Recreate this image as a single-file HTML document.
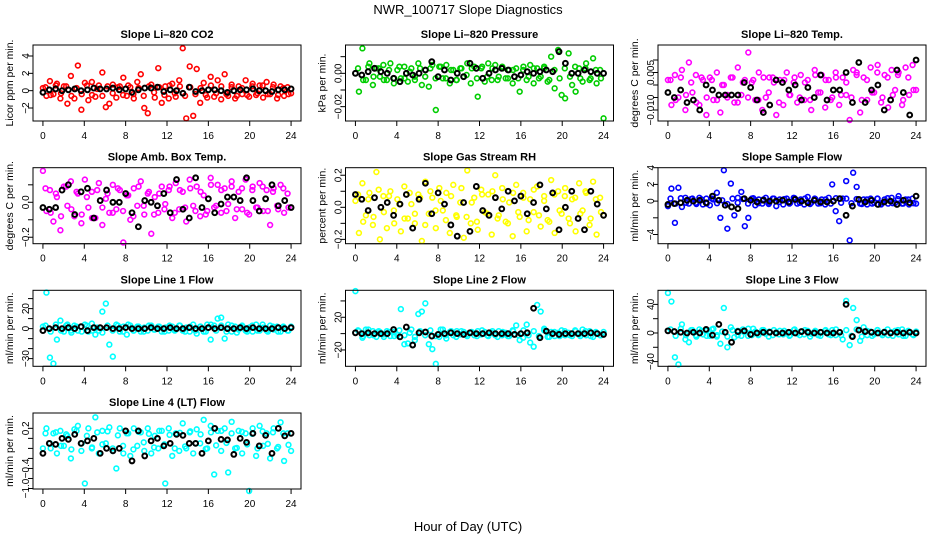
<!DOCTYPE html>
<html><head><meta charset="utf-8"><style>
html,body{margin:0;padding:0;background:#fff;}
svg{display:block;font-family:"Liberation Sans",sans-serif;}
</style></head><body>
<svg id="chart" width="936" height="540" viewBox="0 0 936 540" xmlns="http://www.w3.org/2000/svg">
<rect x="0" y="0" width="936" height="540" fill="#fff"/>
<text x="468" y="14" text-anchor="middle" font-size="13">NWR_100717  Slope Diagnostics</text>
<text x="468" y="531" text-anchor="middle" font-size="13">Hour of Day (UTC)</text>
</svg>
<script>
const hourTicks = [0,4,8,12,16,20,24];

const co2Vals = [0.3,-0.6,1.1,-0.4,0.8,-0.9,0.5,-1.5,1.7,-0.9,2.9,-2.2,0.9,-1.1,1.0,-0.7,0.6,2.1,-1.9,-1.5,0.7,-0.8,0.5,1.5,-0.6,0.4,-0.9,1.0,1.9,-2.0,-2.6,0.7,-0.8,2.6,-1.4,0.5,-0.9,0.8,-0.7,1.2,4.9,-3.2,2.8,-2.9,2.5,-1.4,0.9,-0.8,1.6,-0.7,1.2,-1.0,1.9,-0.6,0.7,-0.9,0.5,-0.4,1.2,-0.7,0.8,-0.5,0.6,-0.8,1.0,-0.4,0.7,-0.9,0.5,-0.6,0.4,-0.3];
const co2Band = [0.4,-0.5,0.6,-0.3,0.5,-0.6,0.3,-0.4,0.6,-0.5,0.2,-0.6,0.5,-0.3,0.4,-0.5,0.6,-0.4,0.3,-0.6,0.5,-0.2,0.4,-0.5,0.6,-0.3,0.5,-0.6,0.4,-0.4,0.3,-0.5,0.6,-0.3,0.5,-0.4,0.4,-0.6,0.3,-0.5,0.5,-0.3,0.6,-0.4,0.4,-0.5,0.3,-0.4];
const co2Black = [-0.2,0.1,0.2,0.0,0.1,0.2,0.0,0.1,0.3,0.2,0.2,0.3,0.1,0.2,-0.2,0.1,0.3,0.3,0.4,-0.1,0.1,0.0,-0.3,0.4,-0.1,0.0,0.1,0.1,0.0,-0.2,0.0,0.1,0.1,0.2,0.0,0.0,-0.1,0.1,0.1,0.2];

const presVals = [0.0,-0.011,0.015,-0.004,0.006,-0.007,0.003,-0.002,0.005,-0.004,0.006,-0.006,0.002,-0.003,0.004,-0.005,0.003,-0.002,0.006,-0.007,0.002,-0.008,0.005,-0.022,0.004,-0.003,0.005,-0.006,0.002,-0.004,0.003,-0.002,0.006,-0.006,0.004,-0.014,0.003,-0.005,0.006,-0.004,0.005,-0.002,0.004,-0.003,0.002,-0.006,0.003,-0.011,0.002,-0.004,0.005,-0.006,0.003,-0.002,0.004,-0.005,0.010,-0.009,0.014,-0.013,-0.015,0.012,-0.007,-0.011,0.003,-0.005,0.006,-0.004,0.009,-0.006,0.002,-0.027];
const presBand = [0.003,-0.004,0.004,-0.002,0.003,-0.004,0.002,-0.003,0.004,-0.003,0.001,-0.004,0.003,-0.002,0.003,-0.003,0.004,-0.003,0.002,-0.004,0.003,-0.001,0.003,-0.003,0.004,-0.002,0.003,-0.004,0.003,-0.003,0.002,-0.003,0.004,-0.002,0.003,-0.003,0.003,-0.004,0.002,-0.003,0.003,-0.002,0.004,-0.003,0.003,-0.003,0.002,-0.003];
const presBlack = [0.0,-0.001,0.001,0.003,0.001,0.0,-0.003,-0.005,0.0,-0.001,0.0,0.002,0.007,-0.002,0.002,-0.004,0.0,-0.002,0.006,0.003,-0.003,0.0,0.002,0.003,0.002,-0.002,-0.001,0.001,0.0,0.001,0.002,0.001,0.013,0.006,0.0,0.0,0.002,0.001,0.0,0.0];

const tempVals = [0.002,-0.008,0.004,-0.005,0.006,-0.010,0.009,-0.003,0.004,-0.008,0.002,-0.012,0.003,-0.006,0.005,-0.011,0.0,-0.005,0.003,-0.007,0.007,-0.004,0.002,0.013,0.001,-0.006,0.005,-0.010,-0.005,0.003,0.003,-0.012,0.002,-0.008,0.005,-0.004,0.001,-0.007,0.004,-0.006,0.002,-0.010,0.006,-0.003,0.004,-0.009,0.002,-0.005,0.005,-0.008,0.003,-0.004,-0.014,0.006,0.005,-0.011,0.003,-0.006,0.007,-0.003,0.008,-0.007,0.004,-0.009,0.006,-0.002,0.005,-0.008,0.007,-0.004,0.008,-0.002];
const tempBand = [0.002,-0.006,0.003,-0.004,0.001,-0.007,0.003,-0.005,0.002,-0.006,0.0,-0.004,0.003,-0.007,0.001,-0.005,0.002,-0.006,0.003,-0.003,0.001,-0.007,0.002,-0.004,0.003,-0.005,0.001,-0.006,0.004,-0.003,0.002,-0.006,0.003,-0.004,0.001,-0.005,0.004,-0.006,0.002,-0.003,0.005,-0.005,0.003,-0.004,0.004,-0.006,0.003,-0.002];
const tempBlack = [-0.003,-0.005,-0.002,-0.007,-0.006,-0.010,0.0,-0.002,-0.004,-0.004,-0.004,-0.004,0.001,-0.001,-0.006,-0.011,-0.008,0.002,0.001,-0.002,0.0,-0.006,-0.001,-0.005,0.004,-0.006,-0.002,-0.002,0.005,-0.007,0.009,-0.007,-0.002,0.0,-0.010,-0.006,0.006,-0.003,-0.012,0.010];

const ambVals = [0.18,-0.05,0.07,-0.11,0.03,-0.16,0.09,-0.02,0.12,-0.08,0.05,-0.12,0.13,-0.03,0.06,-0.09,0.11,-0.13,0.02,-0.06,0.10,-0.04,0.07,-0.23,0.04,-0.10,0.08,-0.02,0.12,-0.07,0.05,-0.18,0.03,-0.06,0.09,-0.01,0.07,-0.09,0.11,-0.04,0.06,-0.11,0.13,-0.02,0.09,-0.08,0.04,-0.05,0.14,-0.03,0.10,-0.06,0.08,-0.01,0.12,-0.09,0.06,-0.04,0.13,-0.07,0.09,-0.03,0.11,-0.05,0.07,-0.13,0.08,-0.02,0.10,-0.06,0.05,-0.03];
const ambBand = [0.08,-0.06,0.05,-0.08,0.09,-0.04,0.06,-0.07,0.03,-0.09,0.07,-0.03,0.05,-0.06,0.08,-0.05,0.04,-0.08,0.09,-0.02,0.06,-0.07,0.05,-0.04,0.09,-0.06,0.07,-0.03,0.08,-0.05,0.06,-0.07,0.10,-0.02,0.07,-0.05,0.09,-0.04,0.08,-0.06,0.07,-0.03,0.09,-0.05,0.06,-0.04,0.08,-0.03];
const ambBlack = [-0.03,-0.04,-0.03,0.07,0.10,-0.07,0.06,0.08,-0.09,0.01,0.07,0.0,0.0,0.05,-0.06,-0.14,0.01,0.0,-0.02,0.05,-0.06,0.13,-0.04,-0.09,0.14,-0.03,0.02,-0.06,-0.01,0.03,0.03,0.01,0.14,0.01,-0.05,0.02,0.10,-0.02,0.01,-0.03];

const rhVals = [0.04,-0.16,0.15,-0.05,0.09,-0.11,0.22,-0.20,0.07,-0.13,0.10,-0.02,0.05,-0.15,0.13,-0.07,0.02,-0.10,0.08,-0.21,0.16,-0.04,0.06,-0.13,0.12,-0.02,0.09,-0.16,0.14,-0.06,0.03,-0.19,0.23,-0.10,0.06,-0.14,0.11,-0.03,0.08,-0.17,0.20,-0.05,0.12,-0.09,0.03,-0.18,0.14,-0.06,0.09,-0.15,0.05,-0.03,0.13,-0.12,0.07,-0.08,0.17,-0.16,0.10,-0.04,0.12,-0.07,0.05,-0.15,0.15,-0.02,0.09,-0.11,0.16,-0.17,0.06,-0.05];
const rhBand = [0.08,-0.09,0.05,-0.06,0.11,-0.03,0.07,-0.10,0.02,-0.07,0.09,-0.04,0.06,-0.11,0.10,-0.02,0.04,-0.08,0.07,-0.05,0.12,-0.06,0.03,-0.09,0.08,-0.04,0.10,-0.07,0.05,-0.10,0.09,-0.03,0.06,-0.08,0.11,-0.05,0.04,-0.09,0.08,-0.02,0.07,-0.10,0.06,-0.04,0.10,-0.07,0.05,-0.03];
const rhBlack = [0.08,0.05,-0.02,0.06,0.0,0.03,-0.05,0.02,0.08,-0.13,0.05,0.15,-0.04,0.09,0.02,-0.11,-0.18,0.03,-0.15,0.13,-0.02,-0.05,0.06,-0.01,0.10,0.04,0.07,-0.04,0.03,0.14,-0.01,0.09,-0.14,0.0,0.10,-0.07,-0.14,0.10,0.02,-0.05];

const flowVals = [-0.6,1.5,-2.6,1.6,-0.7,0.4,-0.3,0.3,-0.2,0.4,-0.4,0.3,-0.5,0.2,1.0,-2.0,3.7,-3.3,2.1,-1.7,0.4,1.1,-3.0,-2.0,0.3,-0.5,0.2,-0.3,0.4,-0.2,0.3,-0.6,0.2,-0.4,0.3,-0.2,0.4,-0.3,0.2,-0.4,0.5,-0.2,0.3,-0.3,0.2,-0.4,0.4,2.0,-1.2,-2.4,0.3,2.4,-4.7,3.4,1.7,-0.3,0.2,-0.4,0.3,-0.2,0.3,-0.4,0.2,-0.3,0.4,-0.2,0.6,-0.3,0.2,-0.4,0.3,-0.3];
const flowBand = [0.3,-0.3,0.35,-0.2,0.25,-0.35,0.2,-0.3,0.3,-0.25,0.1,-0.35,0.3,-0.2,0.25,-0.3,0.35,-0.25,0.2,-0.35,0.3,-0.1,0.25,-0.3,0.35,-0.2,0.3,-0.35,0.25,-0.25,0.2,-0.3,0.35,-0.2,0.3,-0.25,0.25,-0.35,0.2,-0.3,0.3,-0.2,0.35,-0.25,0.25,-0.3,0.2,-0.25];
const flowBlack = [-0.4,-0.3,-0.2,0.1,0.0,0.1,-0.2,0.6,0.1,-0.5,-0.7,-0.9,0.3,0.1,-0.1,0.1,0.0,0.0,0.1,-0.1,0.2,0.0,-0.2,0.1,-0.1,-0.1,0.0,0.3,-1.7,-0.6,0.2,-0.1,0.1,-0.4,-0.1,0.0,-0.4,0.1,-0.2,0.6];

const line1Vals = [2,36,-29,-35,-11,8,-3,4,-2,3,-2,2,4,-3,5,-6,-2,17,25,-16,-28,4,-3,2,-6,3,-2,2,-3,1,-2,3,-1,2,-3,1,-2,2,-1,3,-2,1,-3,4,-5,2,-3,4,-11,3,10,11,-10,4,-3,2,-1,3,-2,1,-3,4,-2,1,-2,3,-1,2,-3,1,-2,2];
const line1Band = [3,-3,4,-2,3,-4,2,-3,3,-2,1,-4,3,-2,3,-3,4,-2,2,-3,3,-1,2,-3,3,-2,3,-3,2,-2,2,-3,4,-2,3,-3,3,-4,2,-3,3,-2,4,-3,2,-3,2,-2];
const line1Black = [-2,0,1,0,1,0,2,-2,1,1,1,0,0,1,0,0,0,1,0,0,1,0,0,1,0,0,1,0,1,0,0,1,0,1,0,0,0,1,0,1];

const line2Vals = [52,3,-5,5,-2,3,-4,2,-1,3,-3,2,-2,30,-13,-12,5,-8,24,27,37,-13,-19,-37,-4,5,-6,2,-2,3,-1,2,-3,1,-2,3,-1,2,-3,1,-2,3,-2,1,-3,4,10,-8,-5,11,-11,-16,35,27,6,-4,2,-3,1,4,-2,1,-3,3,-1,5,-2,3,-4,1,-2,2];
const line2Band = [4,-3,5,-2,3,-4,2,-3,4,-2,1,-4,3,-2,4,-3,5,-2,3,-4,3,-1,2,-3,4,-2,3,-4,2,-3,3,-2,4,-2,3,-3,4,-4,2,-3,3,-2,4,-3,3,-3,2,-2];
const line2Black = [1,0,1,0,0,0,5,-4,8,-14,1,2,-3,-1,0,1,0,-1,1,0,0,1,0,0,0,-1,0,1,31,-5,3,0,-1,0,0,0,0,1,0,-1];

const line3Vals = [56,44,-34,-44,12,-9,-13,4,-3,5,-2,3,-4,6,-5,-15,35,-20,8,-6,3,-4,2,6,-3,2,-2,4,-1,2,-3,1,3,-2,1,-3,4,-1,2,-2,3,-1,2,-3,1,3,-2,4,-3,1,-9,45,-17,35,18,-11,8,-3,2,-2,4,-1,2,-3,1,3,-2,5,-4,1,-2,2];
const line3Band = [5,-4,6,-3,4,-5,3,-4,5,-3,2,-5,4,-3,5,-4,6,-3,4,-5,4,-2,3,-4,5,-3,4,-5,3,-4,4,-3,5,-3,4,-4,5,-5,3,-4,4,-3,5,-4,4,-4,3,-3];
const line3Black = [3,2,1,0,1,0,5,-3,12,1,-13,2,3,-2,0,1,1,0,0,1,0,2,1,0,1,0,0,1,40,-5,4,2,1,0,1,0,1,0,1,0];

const line4Vals = [-0.2,0.2,-0.1,0.1,-0.3,0.15,-0.15,0.05,-0.4,0.18,0.25,-0.25,-0.9,0.2,-0.2,0.42,-0.3,0.15,-0.1,0.22,-0.25,-0.6,0.2,-0.3,0.1,-0.35,0.2,-0.15,0.12,-0.25,0.2,-0.3,0.05,-0.2,0.15,-0.9,0.2,-0.35,0.1,-0.25,0.3,-0.2,0.12,-0.3,0.18,-0.1,0.37,-0.2,0.25,-0.72,0.15,-0.25,0.2,-0.68,0.33,-0.2,0.15,-0.3,0.1,-1.05,0.2,-0.35,0.25,-0.15,0.1,-0.4,0.2,-0.2,0.32,-0.45,0.1,-0.25];
const line4Band = [0.1,-0.2,0.12,-0.15,0.08,-0.22,0.15,-0.1,0.05,-0.18,0.12,-0.12,0.14,-0.2,0.06,-0.15,0.1,-0.22,0.13,-0.08,0.09,-0.18,0.15,-0.12,0.07,-0.2,0.11,-0.16,0.14,-0.1,0.08,-0.21,0.12,-0.14,0.15,-0.09,0.1,-0.19,0.13,-0.12,0.09,-0.2,0.14,-0.11,0.12,-0.17,0.1,-0.13];
const line4Black = [-0.3,-0.1,-0.12,0.0,-0.02,0.08,-0.1,-0.05,0.0,-0.3,-0.2,-0.25,-0.2,0.15,-0.45,0.15,-0.35,-0.05,0.0,-0.15,-0.1,0.08,0.06,-0.1,-0.1,-0.3,-0.05,0.2,-0.02,-0.03,-0.32,0.0,-0.08,0.1,-0.15,0.06,-0.3,0.2,0.05,0.1];

const colLeft = [33, 345.5, 658];
const rowTop = [45, 167.7, 290.3, 413];
const panels = [
 {name:'co2', title:'Slope Li\u2013820 CO2', ylab:'Licor ppm per min.', col:0,row:0, color:'#ff0000', vals:co2Vals, band:co2Band, black:co2Black, ymin:-3.5, ymax:5.27, ticks:[-2,0,2,4], labels:['\u22122','0','2','4']},
 {name:'pressure', title:'Slope Li\u2013820 Pressure', ylab:'kPa per min.', col:1,row:0, color:'#00cd00', vals:presVals, band:presBand, black:presBlack, ymin:-0.0286, ymax:0.017, ticks:[-0.02,-0.01,0,0.01], labels:['\u22120.02','','0.00','']},
 {name:'temp', title:'Slope Li\u2013820 Temp.', ylab:'degrees C per min.', col:2,row:0, color:'#ff00ff', vals:tempVals, band:tempBand, black:tempBlack, ymin:-0.0144, ymax:0.016, ticks:[-0.01,-0.005,0,0.005,0.01], labels:['\u22120.010','','','0.005','']},
 {name:'amb-box-temp', title:'Slope Amb. Box Temp.', ylab:'degrees C per min.', col:0,row:1, color:'#ff00ff', vals:ambVals, band:ambBand, black:ambBlack, ymin:-0.237, ymax:0.198, ticks:[-0.2,-0.1,0,0.1], labels:['\u22120.2','','0.0','']},
 {name:'gas-stream-rh', title:'Slope Gas Stream RH', ylab:'percent per min.', col:1,row:1, color:'#ffff00', vals:rhVals, band:rhBand, black:rhBlack, ymin:-0.227, ymax:0.247, ticks:[-0.2,-0.1,0,0.1,0.2], labels:['\u22120.2','','0.0','','0.2']},
 {name:'sample-flow', title:'Slope Sample Flow', ylab:'ml/min per min.', col:2,row:1, color:'#0000ff', vals:flowVals, band:flowBand, black:flowBlack, ymin:-5.1, ymax:4.0, ticks:[-4,-2,0,2,4], labels:['\u22124','','0','2','4']},
 {name:'line1-flow', title:'Slope Line 1 Flow', ylab:'ml/min per min.', col:0,row:2, color:'#00ffff', vals:line1Vals, band:line1Band, black:line1Black, ymin:-37.7, ymax:38.3, ticks:[-30,-20,-10,0,10,20,30], labels:['\u221230','','','0','','20','']},
 {name:'line2-flow', title:'Slope Line 2 Flow', ylab:'ml/min per min.', col:1,row:2, color:'#00ffff', vals:line2Vals, band:line2Band, black:line2Black, ymin:-40, ymax:53, ticks:[-20,0,20,40], labels:['\u221220','','20','']},
 {name:'line3-flow', title:'Slope Line 3 Flow', ylab:'ml/min per min.', col:2,row:2, color:'#00ffff', vals:line3Vals, band:line3Band, black:line3Black, ymin:-46.6, ymax:59.7, ticks:[-40,-20,0,20,40], labels:['\u221240','','0','','40']},
 {name:'line4-flow', title:'Slope Line 4 (LT) Flow', ylab:'ml/min per min.', col:0,row:3, color:'#00ffff', vals:line4Vals, band:line4Band, black:line4Black, ymin:-1.01, ymax:0.506, ticks:[-1.0,-0.8,-0.6,-0.4,-0.2,0,0.2], labels:['\u22121.0','','\u22120.4','','','','0.2']}
];

const NS = 'http://www.w3.org/2000/svg';
const svg = document.getElementById('chart');
const W = 268, H = 76, XMIN = -0.96, XMAX = 24.96;
function mk(tag, attrs, parent){ const e = document.createElementNS(NS, tag); for (const k in attrs) e.setAttribute(k, attrs[k]); parent.appendChild(e); return e; }

panels.forEach(p => {
  const L = colLeft[p.col], T = rowTop[p.row];
  const xs = h => L + (h - XMIN) / (XMAX - XMIN) * W;
  const ys = v => T + (p.ymax - v) / (p.ymax - p.ymin) * H;
  const g = mk('g', {}, svg);
  
  
  const t = mk('text', {x: L + W/2, y: T - 7, 'text-anchor':'middle', 'font-size':'11', 'font-weight':'bold'}, g);
  t.textContent = p.title;
  
  
  const xa = mk('g', {}, g);
  
  
  mk('line', {x1: xs(hourTicks[0]), x2: xs(hourTicks[hourTicks.length-1]), y1: T+H, y2: T+H, stroke:'#000'}, xa);
  hourTicks.forEach(h => {
    mk('line', {x1: xs(h), x2: xs(h), y1: T+H, y2: T+H+5, stroke:'#000'}, xa);
    const tl = mk('text', {x: xs(h), y: T+H+18, 'text-anchor':'middle', 'font-size':'10'}, xa);
    tl.textContent = h;
    
    
  });
  const ya = mk('g', {}, g);
  
  
  mk('line', {x1: L, x2: L, y1: ys(p.ticks[0]), y2: ys(p.ticks[p.ticks.length-1]), stroke:'#000'}, ya);
  p.ticks.forEach((v, i) => {
    mk('line', {x1: L-5, x2: L, y1: ys(v), y2: ys(v), stroke:'#000'}, ya);
    if (p.labels[i]) {
      const yl = mk('text', {x: 0, y: 0, 'text-anchor':'middle', 'font-size':'10', transform:'translate(' + (L-4) + ',' + ys(v) + ') rotate(-90)'}, ya);
      yl.textContent = p.labels[i];
      
      
    }
  });
  const yt = mk('text', {x: 0, y: 0, 'text-anchor':'middle', 'font-size':'10.5', transform:'translate(' + (L-20) + ',' + (T+H/2) + ') rotate(-90)'}, g);
  yt.textContent = p.ylab;
  
  
  const pts = mk('g', {fill:'none', 'stroke-width':'1.6'}, g);
  
  
  const nb = p.band.length;
  p.band.forEach((v, i) => {
    const h = (i + 0.5) * 24 / nb;
    const c = mk('circle', {cx: xs(h), cy: ys(v), r: 2.4, stroke: p.color}, pts);
    
    
  });
  const n = p.vals.length;
  p.vals.forEach((v, i) => {
    const h = i * 24 / (n - 1);
    const c = mk('circle', {cx: xs(h), cy: ys(v), r: 2.4, stroke: p.color}, pts);
    
    
  });
  const m = p.black.length;
  p.black.forEach((v, i) => {
    const h = i * 24 / (m - 1);
    const c = mk('circle', {cx: xs(h), cy: ys(v), r: 2.4, stroke: '#000', 'stroke-width':'2'}, pts);
    
    
  });
  const box = mk('rect', {x: L, y: T, width: W, height: H, fill:'none', stroke:'#000'}, g);
  
  
});
</script>
</body></html>
